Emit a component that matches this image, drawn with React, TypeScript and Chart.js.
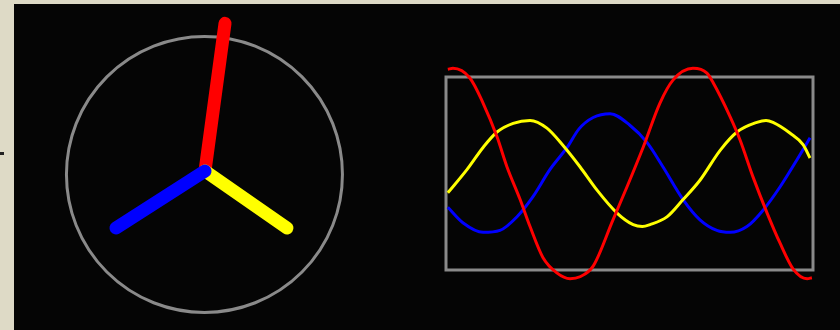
import { useEffect, useRef } from 'react';
import { Chart, registerables } from 'chart.js';

Chart.register(...registerables);

// ---------- Phasor diagram (left) : units where the reference circle radius = 1
const phasorNames = ['Phase R', 'Phase Y', 'Phase B'];
const phasorColors = ['#ff0000', '#ffff00', '#0000ff'];
const phasorTipX = [0.145, 0.594, -0.645];
const phasorTipY = [1.07, -0.413, -0.413];
const circleCenter = [-0.004, -0.025];
const circleRadius = 1;

// ---------- Waveforms (right) : x = % of frame width, y = per-unit (frame = ±1)
const redWaveX = [0.5, 1.9, 6.5, 10.1, 13.9, 16.6, 20.2, 22.9, 26.4, 30.2, 33.8, 36.5, 40.1, 45.5, 49.3, 53.7, 58.3, 61.9, 67.3, 71.1, 72.8, 77.4, 80.1, 83.7, 87.5, 91.0, 94.6, 98.4, 99.7];
const redWaveY = [1.08, 1.09, 0.99, 0.73, 0.38, 0.07, -0.27, -0.55, -0.87, -1.03, -1.09, -1.07, -0.96, -0.48, -0.14, 0.27, 0.73, 0.97, 1.09, 1.04, 0.94, 0.59, 0.35, -0.04, -0.41, -0.72, -0.99, -1.09, -1.08];

const yellowWaveX = [0.5, 5.7, 10.1, 13.9, 18.3, 22.9, 27.5, 31.9, 36.5, 41.1, 46.6, 51.0, 53.5, 55.6, 60.2, 64.6, 69.2, 74.7, 79.3, 84.7, 87.2, 89.1, 93.7, 97.3, 99.2];
const yellowWaveY = [-0.2, 0.04, 0.27, 0.43, 0.52, 0.55, 0.47, 0.29, 0.07, -0.17, -0.41, -0.53, -0.55, -0.53, -0.45, -0.27, -0.07, 0.24, 0.43, 0.53, 0.55, 0.53, 0.42, 0.3, 0.16];

const blueWaveX = [0.5, 4.6, 10.1, 14.7, 19.3, 23.7, 28.3, 33.0, 36.2, 40.1, 44.7, 50.1, 54.8, 59.1, 64.6, 69.2, 73.8, 77.4, 82.0, 86.4, 91.0, 95.6, 99.2];
const blueWaveY = [-0.35, -0.51, -0.61, -0.59, -0.45, -0.24, 0.04, 0.27, 0.46, 0.58, 0.62, 0.5, 0.32, 0.07, -0.27, -0.48, -0.59, -0.61, -0.55, -0.38, -0.14, 0.14, 0.37];

const waveNames = ['R', 'Y', 'B'];
const waveColors = ['#ff0000', '#ffff00', '#0000ff'];

const GRAY = '#8a8a8a';

function toPoints(xs: number[], ys: number[]) {
  return xs.map((x, i) => ({ x, y: ys[i] }));
}

export default function App() {
  const leftRef = useRef<HTMLCanvasElement | null>(null);
  const rightRef = useRef<HTMLCanvasElement | null>(null);

  useEffect(() => {
    const circlePlugin = {
      id: 'circleGuide',
      beforeDatasetsDraw(chart: any) {
        const { ctx, scales } = chart;
        const cx = scales.x.getPixelForValue(circleCenter[0]);
        const cy = scales.y.getPixelForValue(circleCenter[1]);
        const rx = Math.abs(scales.x.getPixelForValue(circleCenter[0] + circleRadius) - cx);
        const ry = Math.abs(scales.y.getPixelForValue(circleCenter[1] + circleRadius) - cy);
        ctx.save();
        ctx.strokeStyle = GRAY;
        ctx.lineWidth = 3;
        ctx.beginPath();
        ctx.ellipse(cx, cy, rx, ry, 0, 0, Math.PI * 2);
        ctx.stroke();
        ctx.restore();
      },
    };

    const framePlugin = {
      id: 'frameGuide',
      beforeDatasetsDraw(chart: any) {
        const { ctx, scales } = chart;
        const x0 = scales.x.getPixelForValue(0);
        const x1 = scales.x.getPixelForValue(100);
        const y0 = scales.y.getPixelForValue(1);
        const y1 = scales.y.getPixelForValue(-1);
        ctx.save();
        ctx.strokeStyle = GRAY;
        ctx.lineWidth = 3;
        ctx.strokeRect(x0, y0, x1 - x0, y1 - y0);
        ctx.restore();
      },
    };

    const range = 160 / 138;
    const left = new Chart(leftRef.current as HTMLCanvasElement, {
      type: 'scatter',
      data: {
        datasets: phasorNames.map((name, i) => ({
          label: name,
          data: [
            { x: 0, y: 0 },
            { x: phasorTipX[i], y: phasorTipY[i] },
          ],
          showLine: true,
          borderColor: phasorColors[i],
          backgroundColor: phasorColors[i],
          borderWidth: 13,
          borderCapStyle: 'round' as const,
          pointRadius: 0,
          clip: false as any,
          order: i === 0 ? 3 : i === 1 ? 2 : 1,
        })),
      },
      options: {
        responsive: false,
        animation: false,
        devicePixelRatio: 1,
        layout: { padding: 0 },
        plugins: { legend: { display: false }, tooltip: { enabled: false } },
        events: [],
        scales: {
          x: { type: 'linear', min: -range, max: range, display: false },
          y: { type: 'linear', min: -range, max: range, display: false },
        },
      },
      plugins: [circlePlugin],
    });

    const waves = [
      toPoints(redWaveX, redWaveY),
      toPoints(yellowWaveX, yellowWaveY),
      toPoints(blueWaveX, blueWaveY),
    ];
    const right = new Chart(rightRef.current as HTMLCanvasElement, {
      type: 'line',
      data: {
        datasets: waves.map((pts, i) => ({
          label: waveNames[i],
          data: pts,
          borderColor: waveColors[i],
          backgroundColor: waveColors[i],
          borderWidth: 3,
          pointRadius: 0,
          cubicInterpolationMode: 'monotone' as const,
          fill: false,
          clip: false as any,
        })),
      },
      options: {
        responsive: false,
        animation: false,
        devicePixelRatio: 1,
        layout: { padding: 0 },
        plugins: { legend: { display: false }, tooltip: { enabled: false } },
        events: [],
        scales: {
          x: { type: 'linear', min: -20 / 3.67, max: 100 + 20 / 3.67, display: false },
          y: { type: 'linear', min: -120.5 / 96.5, max: 120.5 / 96.5, display: false },
        },
      },
      plugins: [framePlugin],
    });

    return () => {
      left.destroy();
      right.destroy();
    };
  }, []);

  return (
    <div
      style={{
        position: 'absolute',
        left: 0,
        top: 0,
        width: 840,
        height: 330,
        background: '#dedac6',
        overflow: 'hidden',
      }}
    >
      <div style={{ position: 'absolute', left: 0, top: 152, width: 4, height: 3, background: '#222' }} />
      <div
        style={{
          position: 'absolute',
          left: 14,
          top: 4,
          width: 826,
          height: 326,
          background: '#050505',
        }}
      />
      <canvas
        ref={leftRef}
        width={320}
        height={320}
        style={{ position: 'absolute', left: 45, top: 11, width: 320, height: 320, display: 'block' }}
      />
      <canvas
        ref={rightRef}
        width={407}
        height={241}
        style={{ position: 'absolute', left: 426, top: 53, width: 407, height: 241, display: 'block' }}
      />
    </div>
  );
}
